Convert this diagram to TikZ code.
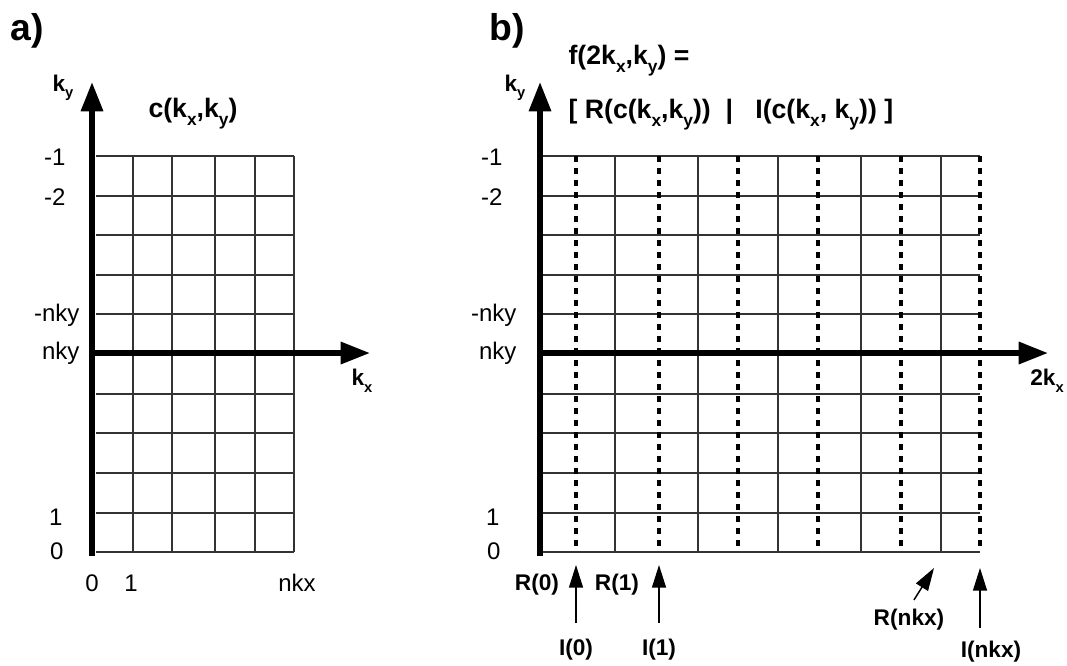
\documentclass[tikz,border=0pt]{standalone}
\usepackage{fontspec}
\setmainfont{Liberation Sans}
\usetikzlibrary{arrows.meta}

\newcommand\lbl{\fontsize{17pt}{20pt}\selectfont}
\newcommand\ttl{\fontsize{20pt}{24pt}\selectfont}
\newcommand\idx[1]{\raisebox{-0.55ex}{\fontsize{0.65em}{1em}\selectfont #1}}

\tikzset{
  gridline/.style={line width=0.8pt,black!80},
  halfline/.style={line width=2.5pt,dash pattern=on 4.5pt off 4.5pt},
  axis/.style={line width=4pt,-{Triangle[length=22pt,width=16pt]}},
  pointer/.style={line width=1.1pt,-{Triangle[length=17pt,width=10.5pt]}},
  lab/.style={font=\fontsize{18pt}{21pt}\selectfont,inner sep=1pt},
  blab/.style={font=\lbl\bfseries,inner sep=1pt},
  tlab/.style={font=\ttl\bfseries,inner sep=1pt},
  panel/.style={font=\fontsize{28pt}{32pt}\selectfont\bfseries,inner sep=1pt}
}

\begin{document}
\begin{tikzpicture}[x=0.75pt,y=-0.75pt]
\useasboundingbox (0,0) rectangle (1067,665);

% a) plain grid
\foreach \y in {156,196,235,275,314,354,394,433,473,513,552}
  \draw[gridline] (96,\y) -- (294,\y);
\foreach \x in {133,172,215,255,294}
  \draw[gridline] (\x,156) -- (\x,552);
\coordinate (aorig) at (92,556);
\coordinate (aytop) at (92,82);
\coordinate (axleft) at (92,353);
\coordinate (axright) at (370,353);
\draw[axis] (aorig) -- (aytop);
\draw[axis] (axleft) -- (axright);

\node[panel] (pa) at (27,31) {a)};
\node[blab] (kya) at (63,88) {k\idx{y}};
\node[tlab] (cfun) at (193,114) {c(k\idx{x},k\idx{y})};
\node[blab] (kxa) at (362,381) {k\idx{x}};
\node[lab,anchor=east] (am1) at (67,157) {-1};
\node[lab,anchor=east] (am2) at (67,197) {-2};
\node[lab,anchor=east] (amn) at (81,315) {-nky};
\node[lab,anchor=east] (apn) at (81,353) {nky};
\node[lab,anchor=east] (ap1) at (64,517) {1};
\node[lab,anchor=east] (ap0) at (65,551) {0};
\node[lab] (ax0) at (92,583) {0};
\node[lab] (ax1) at (131,583) {1};
\node[lab] (axn) at (297,583) {nkx};

% b) interleaved real / imaginary columns
\foreach \y in {156,196,235,275,314,354,394,433,473,513,552}
  \draw[gridline] (543,\y) -- (980,\y);
\foreach \x in {615,698,778,861,941}
  \draw[gridline] (\x,156) -- (\x,552);
\foreach \x in {576,659,738,818,901,980}
  \draw[halfline] (\x,156) -- (\x,552);
\coordinate (borig) at (540,556);
\coordinate (bytop) at (540,82);
\coordinate (bxleft) at (540,353);
\coordinate (bxright) at (1048,353);
\draw[axis] (borig) -- (bytop);
\draw[axis] (bxleft) -- (bxright);

\node[panel] (pb) at (507,31) {b)};
\node[blab] (kyb) at (515,88) {k\idx{y}};
\node[tlab,anchor=west] (fdef) at (567,61) {f(2k\idx{x},k\idx{y}) =};
\node[tlab,anchor=west] (fsplit) at (567,115) {[ R(c(k\idx{x},k\idx{y}))\ \ |\ \ \ I(c(k\idx{x}, k\idx{y})) ]};
\node[blab] (kxb) at (1047,381) {2k\idx{x}};
\node[lab,anchor=east] (bm1) at (504,157) {-1};
\node[lab,anchor=east] (bm2) at (504,197) {-2};
\node[lab,anchor=east] (bmn) at (518,315) {-nky};
\node[lab,anchor=east] (bpn) at (518,353) {nky};
\node[lab,anchor=east] (bp1) at (501,517) {1};
\node[lab,anchor=east] (bp0) at (502,551) {0};

\coordinate (pI0) at (576,565);
\coordinate (pI1) at (659,565);
\coordinate (pRn) at (934,568);
\coordinate (pIn) at (980,568);
\node[blab] (lR0) at (537,585) {R(0)};
\node[blab] (lR1) at (617,585) {R(1)};
\node[blab] (lI0) at (576,650) {I(0)};
\node[blab] (lI1) at (659,650) {I(1)};
\node[blab] (lRn) at (909,620) {R(nkx)};
\node[blab] (lIn) at (991,652) {I(nkx)};
\draw[pointer,shorten <=11pt] (lI0) -- (pI0);
\draw[pointer,shorten <=11pt] (lI1) -- (pI1);
\draw[pointer,shorten <=7pt] (lRn.north) -- (pRn);
\draw[pointer,shorten <=9pt] (lIn.north -| pIn) -- (pIn);
\end{tikzpicture}
\end{document}
